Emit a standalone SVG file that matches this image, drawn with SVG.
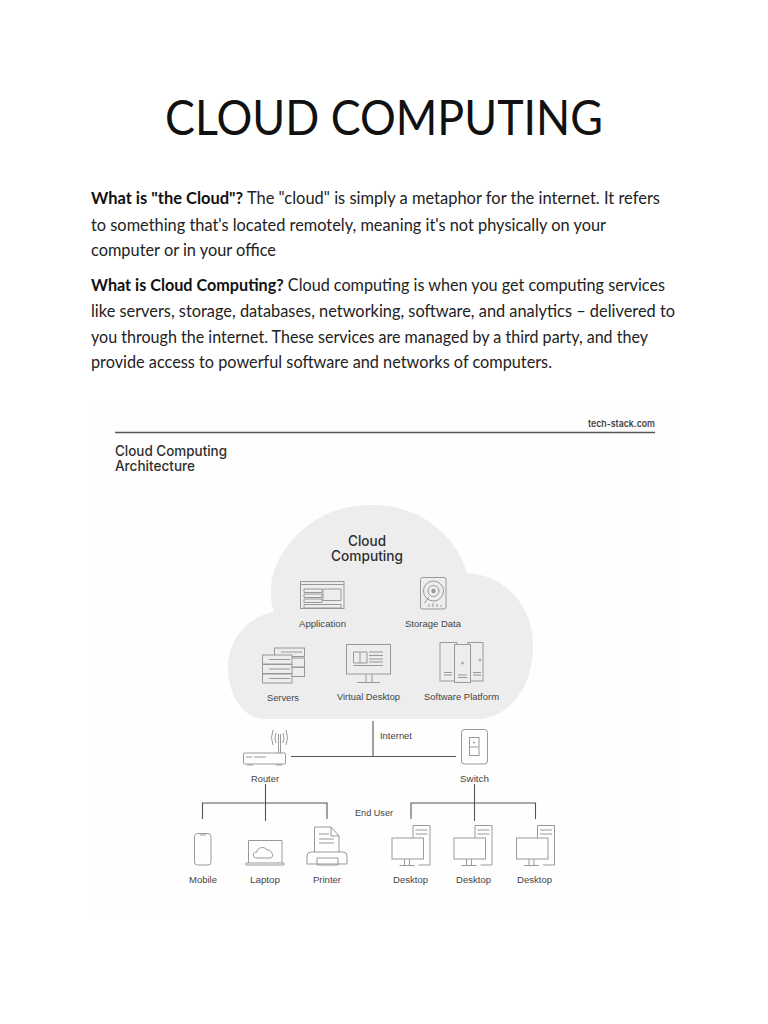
<svg xmlns="http://www.w3.org/2000/svg" width="768" height="1024" viewBox="0 0 768 1024">
<style>
.b{font-family:"Lato","Carlito",sans-serif;font-size:16.45px;fill:#222}
.bb{font-weight:700;fill:#111}
.t{font-family:"Liberation Sans",Arial,sans-serif;fill:#444;font-size:9.7px;text-anchor:middle}
.h{font-family:"Inter","Liberation Sans",sans-serif;font-weight:500;fill:#2e2e2e;font-size:14px}
.i{fill:none;stroke:#999;stroke-width:1}
.d{fill:#ededed;stroke:#999;stroke-width:1}
.w{fill:#fefefe;stroke:#999;stroke-width:1}
.c{fill:none;stroke:#555;stroke-width:1.1}
</style>
<rect width="768" height="1024" fill="#fff"/>
<rect x="92" y="400" width="584" height="516" fill="#fefefe"/>
<text x="165" y="135" font-family="Lato, sans-serif" font-size="47.6" fill="#111" textLength="438" lengthAdjust="spacingAndGlyphs">CLOUD COMPUTING</text>
<text class="b" x="91" y="204" textLength="569" lengthAdjust="spacingAndGlyphs"><tspan class="bb">What is "the Cloud"?</tspan> The "cloud" is simply a metaphor for the internet. It refers</text>
<text class="b" x="91" y="230.500" textLength="515" lengthAdjust="spacingAndGlyphs">to something that's located remotely, meaning it's not physically on your</text>
<text class="b" x="91" y="256" textLength="185" lengthAdjust="spacingAndGlyphs">computer or in your office</text>
<text class="b" x="91" y="291" textLength="574" lengthAdjust="spacingAndGlyphs"><tspan class="bb">What is Cloud Computing?</tspan> Cloud computing is when you get computing services</text>
<text class="b" x="91" y="317" textLength="584" lengthAdjust="spacingAndGlyphs">like servers, storage, databases, networking, software, and analytics – delivered to</text>
<text class="b" x="91" y="342.500" textLength="557" lengthAdjust="spacingAndGlyphs">you through the internet. These services are managed by a third party, and they</text>
<text class="b" x="91" y="368" textLength="461" lengthAdjust="spacingAndGlyphs">provide access to powerful software and networks of computers.</text>
<path d="M115 432.500H655" stroke="#555" stroke-width="1.300" fill="none"/>
<text x="588" y="427" font-family="Inter,sans-serif" font-size="9.500" font-weight="600" fill="#444" textLength="67" lengthAdjust="spacingAndGlyphs">tech-stack.com</text>
<text class="h" x="115" y="455.500" textLength="112" lengthAdjust="spacingAndGlyphs">Cloud Computing</text>
<text class="h" x="115" y="470.500" textLength="80" lengthAdjust="spacingAndGlyphs">Architecture</text>
<g id="cloud"><path d="M262 719C240 716 228 692 228 667C228 640 248 616 274 612C266 590 272 560 296 536C320 512 345 505 372 505C420 505 456 535 467 573C505 575 533 606 533 645C533 688 510 715 482 719Z" fill="#ededed"/>
<text class="h" x="367" y="546" text-anchor="middle" textLength="38" lengthAdjust="spacingAndGlyphs">Cloud</text><text class="h" x="367" y="561" text-anchor="middle" textLength="72" lengthAdjust="spacingAndGlyphs">Computing</text></g>
<g id="application"><rect class="i" x="300.500" y="581.500" width="43.500" height="27"/><path class="i" d="M300.500 584.500H344M304 589H322V592.500H304ZM304 594H322V597.500H304ZM304 599H322V602.500H304ZM323 589H341V600.500H323ZM304 604.500H341V608H304Z"/><text class="t" x="322.500" y="626.500" textLength="47" lengthAdjust="spacingAndGlyphs">Application</text></g>
<g id="storage"><rect class="i" x="420.500" y="577.500" width="25.500" height="31.500" rx="2"/><circle class="i" cx="433.500" cy="591" r="10"/><circle class="i" cx="433.500" cy="591" r="5.500"/><circle cx="433.500" cy="591" r="2.200" fill="#999"/><path class="i" d="M429 597L424.500 603M429 607V604M433 607V603M437 607V604M441 607V605"/><text class="t" x="433" y="626.500" textLength="56" lengthAdjust="spacingAndGlyphs">Storage Data</text></g>
<g id="servers"><rect class="d" x="274.500" y="648" width="30" height="8.500"/><rect class="d" x="274.500" y="658" width="30" height="9"/><rect class="d" x="274.500" y="667.500" width="30" height="9"/><rect class="d" x="262.500" y="655" width="29.500" height="9"/><rect class="d" x="262.500" y="664.500" width="29.500" height="9"/><rect class="d" x="262.500" y="674" width="29.500" height="9"/><path class="i" d="M269 659.500H290M269 669H290M269 678.500H290M281 652H302"/><text class="t" x="283" y="700.500" textLength="32" lengthAdjust="spacingAndGlyphs">Servers</text></g>
<g id="virtual-desktop"><rect class="i" x="346.500" y="644.500" width="44" height="29.500"/><path class="i" d="M353.500 652H367V663H353.500ZM360 652V663M369 652H383M369 655.500H383M369 659H383M369 662H383M353.500 665.500H383M366 674V682M372 674V682M357 682.500H380"/><text class="t" x="368.500" y="699.500" textLength="63" lengthAdjust="spacingAndGlyphs">Virtual Desktop</text></g>
<g id="software-platform"><rect class="d" x="440" y="642.500" width="17" height="38.500"/><rect class="d" x="468" y="642.500" width="15" height="38.500"/><rect class="d" x="454.500" y="644.500" width="16" height="38"/><path class="i" d="M444 672.500H452M444 675H452M473 672.500H481M473 675H481M458 675H467M458 677.500H467"/><circle class="i" cx="462.500" cy="663" r="1"/><circle class="i" cx="480" cy="660" r="1"/><text class="t" x="461.500" y="699.500" textLength="75" lengthAdjust="spacingAndGlyphs">Software Platform</text></g>
<g id="connectors"><path class="c" d="M373 721V756.500M291 756.500H456M265.500 784V821M202.500 803H327M202.500 802.500V819M327 802.500V819M474.500 784V821M411 803H535.500M411 802.500V819M535.500 802.500V819"/></g>
<text class="t" x="396" y="739" textLength="32" lengthAdjust="spacingAndGlyphs">Internet</text>
<text class="t" x="374" y="815.500" textLength="38" lengthAdjust="spacingAndGlyphs">End User</text>
<g id="router"><rect class="i" x="243.500" y="753" width="42" height="11" rx="1"/><path class="i" d="M278.500 753V734M280.500 753V734M276 733Q274 738 276 743M283 733Q285 738 283 743M273 730Q270 738 273 745M286 730Q289 738 286 745M246 757H252M254 757H266M247 765H253M276 765H282"/><text class="t" x="265" y="781.500" textLength="28" lengthAdjust="spacingAndGlyphs">Router</text></g>
<g id="switch"><rect class="i" x="461.500" y="729.500" width="26" height="34.500" rx="3"/><rect class="i" x="469.500" y="737.500" width="9.500" height="18"/><path class="i" d="M469.500 747H479"/><circle cx="474" cy="742.500" r="1" fill="#999"/><text class="t" x="474.500" y="781.500" textLength="29" lengthAdjust="spacingAndGlyphs">Switch</text></g>
<g id="mobile"><rect class="i" x="194.500" y="833.500" width="16.500" height="31.500" rx="3"/><path class="i" d="M200 835H206"/><text class="t" x="203" y="882.500" textLength="28" lengthAdjust="spacingAndGlyphs">Mobile</text></g>
<g id="laptop"><path class="i" d="M248.500 863V840.500H282V863M246 863H284V865H246ZM257 858C252 858 252 852 257 852C257 847 265 846 267 850C272 849 275 858 270 858Z"/><text class="t" x="265" y="882.500" textLength="30" lengthAdjust="spacingAndGlyphs">Laptop</text></g>
<g id="printer"><path class="i" d="M314.500 852V827H331L339 836V852M331 827V836H339M319 834H329M319 839H334M319 843H334M311 852H343Q347 852 347 856V864H307V856Q307 852 311 852ZM317 858H338V865H317Z"/><text class="t" x="327" y="882.500" textLength="28" lengthAdjust="spacingAndGlyphs">Printer</text></g>
<defs><g id="pc"><path class="i" d="M21.500 838V825.500H38.500V865H27M24 830H36M24 834H36"/><rect class="w" x="0.500" y="838" width="31.500" height="21"/><path class="i" d="M13 859V865M18 859V865M8 865.500H23"/></g></defs>
<g id="desktop-1"><use href="#pc" x="391.500"/><text class="t" x="410.500" y="882.500" textLength="35" lengthAdjust="spacingAndGlyphs">Desktop</text></g>
<g id="desktop-2"><use href="#pc" x="453.500"/><text class="t" x="473.500" y="882.500" textLength="35" lengthAdjust="spacingAndGlyphs">Desktop</text></g>
<g id="desktop-3"><use href="#pc" x="516"/><text class="t" x="534.500" y="882.500" textLength="35" lengthAdjust="spacingAndGlyphs">Desktop</text></g>
</svg>
